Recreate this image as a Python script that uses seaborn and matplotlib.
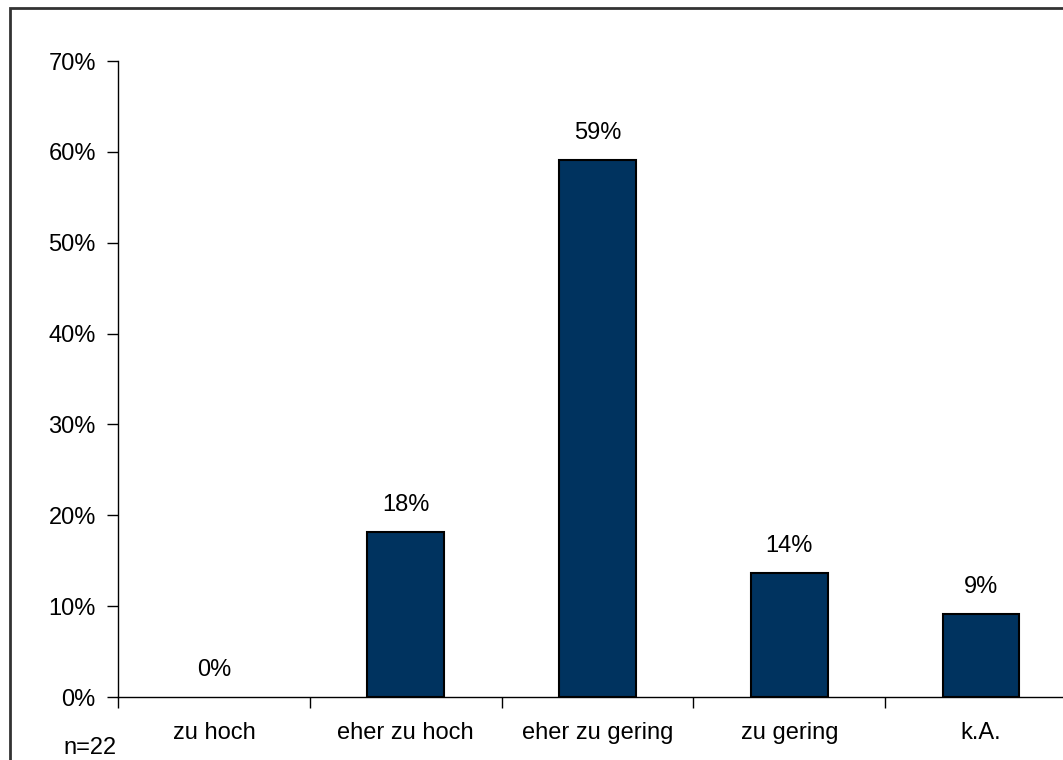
import matplotlib
matplotlib.use("Agg")
import matplotlib.pyplot as plt
import seaborn as sns
import pandas as pd
from matplotlib.patches import Rectangle

categories = ["zu hoch", "eher zu hoch", "eher zu gering", "zu gering", "k.A."]
values = [0.0, 18.18, 59.09, 13.64, 9.09]
value_labels = ["0%", "18%", "59%", "14%", "9%"]
y_ticks = [0, 10, 20, 30, 40, 50, 60, 70]
y_tick_labels = ["0%", "10%", "20%", "30%", "40%", "50%", "60%", "70%"]
note = "n=22"

sns.set_theme(style="white")
plt.rcParams["font.family"] = ["Liberation Sans", "DejaVu Sans"]
plt.rcParams["text.color"] = "black"
plt.rcParams["xtick.color"] = "black"
plt.rcParams["ytick.color"] = "black"
plt.rcParams["axes.labelcolor"] = "black"

df = pd.DataFrame({"cat": categories, "val": values})

W, H = 1063, 760
fig = plt.figure(figsize=(W / 100, H / 100), dpi=100)
fig.patch.set_facecolor("white")

# outer frame (cropped at right and bottom)
fig.patches.append(Rectangle((10 / W, -0.05), 1.1, 1 - 8 / H + 0.05,
                             transform=fig.transFigure, fill=False,
                             edgecolor="#333333", linewidth=2))

left, right = 118 / W, 1077 / W
bottom, top = 1 - 697 / H, 1 - 61 / H
ax = fig.add_axes([left, bottom, right - left, top - bottom])
ax.set_facecolor("white")

sns.barplot(data=df, x="cat", y="val", ax=ax, color="#00335F",
            width=0.4, edgecolor="black", linewidth=1.5, saturation=1)
for p, v in zip(ax.patches, values):
    if v == 0:
        p.set_linewidth(0)

ax.set_xlim(-0.5, len(categories) - 0.5)
ax.set_ylim(0, 70)
ax.set_yticks(y_ticks)
ax.set_yticklabels(y_tick_labels, fontsize=17, color="black")
ax.set_xlabel("")
ax.set_ylabel("")

# x ticks at category boundaries; labels at centers
ax.set_xticks([i for i in range(len(categories))])
ax.set_xticklabels(categories, fontsize=17, color="black")
ax.tick_params(axis="x", length=0, pad=18)
ax.set_xticks([i - 0.5 for i in range(len(categories))], minor=True)
ax.tick_params(axis="x", which="minor", length=8, width=1, color="black", direction="out", bottom=True)
ax.tick_params(axis="y", length=8, width=1, color="black", direction="out", left=True, pad=8)

for s in ["top", "right"]:
    ax.spines[s].set_visible(False)
for s in ["left", "bottom"]:
    ax.spines[s].set_color("black")
    ax.spines[s].set_linewidth(1)

for i, (v, lab) in enumerate(zip(values, value_labels)):
    ax.annotate(lab, xy=(i, v), xytext=(0, 16), textcoords="offset pixels",
                ha="center", va="bottom", fontsize=17, color="black")

fig.text(63 / W, 1 - 748 / H, note, ha="left", va="center", fontsize=17, color="black")

fig.savefig("out.png", dpi=100)
